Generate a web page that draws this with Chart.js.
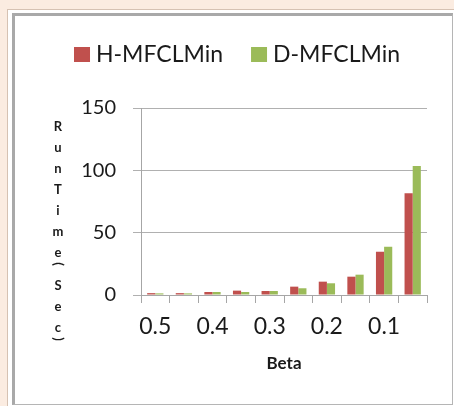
<!DOCTYPE html>
<html><head><meta charset="utf-8">
<script src="https://cdn.jsdelivr.net/npm/chart.js@4/dist/chart.umd.min.js"></script>
<style>
html,body{margin:0;padding:0;background:#fbece1;width:454px;height:406px;overflow:hidden}
#outer{position:absolute;left:7px;top:9px;width:470px;height:420px;border:1px solid #d6c2b3;background:#fff}
#inner{position:absolute;left:12px;top:13px;width:437px;height:388px;border-left:3px solid #a9a9a9;border-top:3px solid #a9a9a9;border-right:1px solid #b5b5b5;border-bottom:1px solid #b5b5b5;background:#fff}
canvas{position:absolute;left:0;top:0}
</style></head><body>
<div id="outer"></div><div id="inner"></div>
<canvas id="c" width="454" height="406"></canvas>
<script>
const categories = ['0.5','0.45','0.4','0.35','0.3','0.25','0.2','0.15','0.1','0.05'];
const hValues = [1.5, 1.5, 2.4, 3.5, 3.2, 6.7, 10.7, 14.7, 34.7, 81.6];
const dValues = [1.3, 1.3, 2.4, 2.4, 3.2, 5.4, 9.4, 16.3, 38.7, 103.5];
const yTicks = [0, 50, 100, 150];
const seriesNames = ['H-MFCLMin', 'D-MFCLMin'];
const seriesColors = ['#C0504D', '#9BBB59'];
const yTitle = ['R','u','n','T','i','m','e','(','S','e','c',')'];
const xTitle = 'Beta';
const textColor = '#1a1a1a';

const legendPlugin = {
  id: 'legendCustom',
  afterDraw(chart) {
    const ctx = chart.ctx;
    ctx.save();
    ctx.font = '23px Lato';
    const box = 16, gap = 6, itemGap = 28;
    const items = chart.data.datasets.map(d => ({text: d.label, color: d.backgroundColor, w: ctx.measureText(d.label).width}));
    const total = items.reduce((a, it) => a + box + gap + it.w, 0) + itemGap * (items.length - 1);
    let x = chart.width / 2 + 10 - total / 2;
    const base = 62;
    items.forEach(it => {
      ctx.fillStyle = it.color;
      ctx.fillRect(x, base - 15, box, 15);
      ctx.fillStyle = textColor;
      ctx.textBaseline = 'alphabetic';
      ctx.textAlign = 'left';
      ctx.fillText(it.text, x + box + gap, base);
      x += box + gap + it.w + itemGap;
    });
    ctx.restore();
  }
};

const yTitlePlugin = {
  id: 'yTitleStack',
  afterDraw(chart) {
    const ctx = chart.ctx;
    ctx.save();
    ctx.font = 'bold 13px Lato';
    ctx.fillStyle = textColor;
    ctx.textAlign = 'center';
    ctx.textBaseline = 'middle';
    const x = chart.chartArea.left - 83;
    let y = chart.chartArea.top + 19;
    let prevParen = null;
    yTitle.forEach((ch, i) => {
      const paren = ch === '(' || ch === ')';
      if (i > 0) y += paren ? 11 : (prevParen ? 22 : 21);
      if (paren) {
        ctx.save();
        ctx.translate(x, y);
        ctx.rotate(Math.PI / 2);
        ctx.fillText(ch, 0, 0);
        ctx.restore();
      } else {
        ctx.fillText(ch, x, y);
      }
      prevParen = paren;
    });
    ctx.restore();
  }
};

new Chart(document.getElementById('c'), {
  type: 'bar',
  data: {
    labels: categories,
    datasets: [
      {label: seriesNames[0], data: hValues, backgroundColor: seriesColors[0], borderWidth: 0},
      {label: seriesNames[1], data: dValues, backgroundColor: seriesColors[1], borderWidth: 0}
    ]
  },
  options: {
    responsive: false,
    animation: false,
    devicePixelRatio: 1,
    layout: {padding: {left: 0, right: 27, top: 108, bottom: 0}},
    plugins: {legend: {display: false}, tooltip: {enabled: false}},
    datasets: {bar: {categoryPercentage: 0.57, barPercentage: 1}},
    scales: {
      x: {
        grid: {offset: true, drawOnChartArea: false, color: '#a6a6a6', tickLength: 8},
        border: {color: '#a6a6a6'},
        ticks: {autoSkip: false, maxRotation: 0, color: textColor, font: {family: 'Lato', size: 23}, padding: 10,
          callback: (v, i) => i % 2 === 0 ? categories[i] : ''},
        title: {display: true, text: xTitle, color: textColor, font: {family: 'Lato', size: 17, weight: 'bold'}, padding: {top: 4, bottom: 32}},
        afterFit: s => { s.height = 111; }
      },
      y: {
        min: 0, max: 150,
        afterBuildTicks: s => { s.ticks = yTicks.map(v => ({value: v})); },
        grid: {color: '#b0b0b0', tickLength: 8},
        border: {color: '#a6a6a6'},
        ticks: {color: textColor, font: {family: 'Lato', size: 20}, padding: 17},
        afterFit: s => { s.width = 141; }
      }
    }
  },
  plugins: [legendPlugin, yTitlePlugin]
});
</script>
</body></html>
